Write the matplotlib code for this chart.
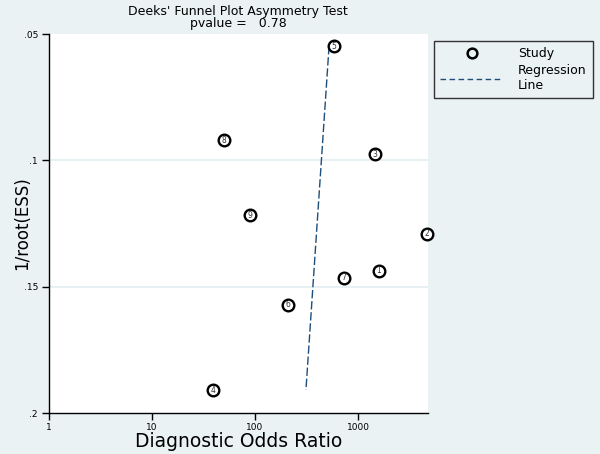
import numpy as np
import matplotlib
matplotlib.use("Agg")
import matplotlib.pyplot as plt
from matplotlib.lines import Line2D

# Data
study_ids = ["1", "2", "3", "4", "5", "6", "7", "8", "9"]
dor = [1600, 4680, 1460, 39, 585, 209, 731, 50, 89]
inv_root_ess = [0.1437, 0.1290, 0.0976, 0.1909, 0.0548, 0.1571, 0.1464, 0.0921, 0.1218]
# Regression: ln(DOR) = intercept + slope * (1/root(ESS))
reg_intercept = 6.47
reg_slope = -3.80
pvalue = 0.78
x_ticks = [1, 10, 100, 1000]
x_ticklabels = ["1", "10", "100", "1000"]
y_ticks = [0.05, 0.1, 0.15, 0.2]
y_ticklabels = [".05", ".1", ".15", ".2"]

bg = "#eaf2f4"
fig = plt.figure(figsize=(6.0, 4.54), dpi=100, facecolor=bg)
ax = fig.add_axes([49/600, 1-413/454, (428-49)/600, (413-34)/454])
ax.set_facecolor("white")

ax.set_xscale("log")
ax.set_xlim(1, 10**3.68)
ax.set_ylim(0.2, 0.05)

# gridlines
for yv in [0.1, 0.15]:
    ax.axhline(yv, color="#e3edf0", lw=1.2, zorder=0)

# regression line
yr = np.array([min(inv_root_ess), max(inv_root_ess)])
xr = np.exp(reg_intercept + reg_slope * yr)
ax.plot(xr, yr, color="#1f4e79", lw=1.0, ls=(0, (6, 2)), zorder=2)

# studies
ax.scatter(dor, inv_root_ess, s=70, facecolor="white", edgecolor="black", linewidths=1.7,
           zorder=3, clip_on=False)
for sid, xv, yv in zip(study_ids, dor, inv_root_ess):
    ax.text(xv, yv, sid, fontsize=5.5, ha="center", va="center", color="#333333", zorder=4)

for s in ["top", "right"]:
    ax.spines[s].set_visible(False)
for s in ["left", "bottom"]:
    ax.spines[s].set_color("black")
    ax.spines[s].set_linewidth(1.0)

ax.set_xticks(x_ticks)
ax.set_xticklabels(x_ticklabels, fontsize=6.5)
ax.xaxis.set_minor_locator(matplotlib.ticker.NullLocator())
ax.set_yticks(y_ticks)
ax.set_yticklabels(y_ticklabels, fontsize=6.5)
ax.tick_params(direction="out", length=5, width=1.0, pad=3, colors="black")
ax.tick_params(axis="x", pad=2)

ax.set_xlabel("Diagnostic Odds Ratio", fontsize=13.5)
ax.xaxis.set_label_coords(0.5, -(432-413)/379, transform=ax.transAxes)
ax.xaxis.label.set_va("top")
ax.set_ylabel("1/root(ESS)", fontsize=12)
ax.yaxis.set_label_coords(-(49-22)/379, 0.5, transform=ax.transAxes)
ax.yaxis.label.set_va("center")

fig.text(238/600, 1-12/454, "Deeks' Funnel Plot Asymmetry Test", ha="center", va="center", fontsize=9)
fig.text(238/600, 1-24/454, "pvalue =   %.2f" % pvalue, ha="center", va="center", fontsize=9)

handles = [
    Line2D([], [], marker="o", ls="none", markerfacecolor="none", markeredgecolor="black",
           markeredgewidth=1.8, markersize=7),
    Line2D([], [], color="#1f4e79", lw=1.0, ls=(0, (4, 2.5))),
]
leg = fig.legend(handles, ["Study", "Regression\nLine"], loc="upper left",
                 bbox_to_anchor=(434/600, 1-41/454), fontsize=9, frameon=True,
                 fancybox=False, edgecolor="#333333", facecolor=bg, framealpha=1,
                 handlelength=5, borderpad=0.5, labelspacing=0.3, handletextpad=1.2,
                 borderaxespad=0)
leg.get_frame().set_linewidth(1.0)

fig.savefig("out.png", dpi=100, facecolor=bg)
